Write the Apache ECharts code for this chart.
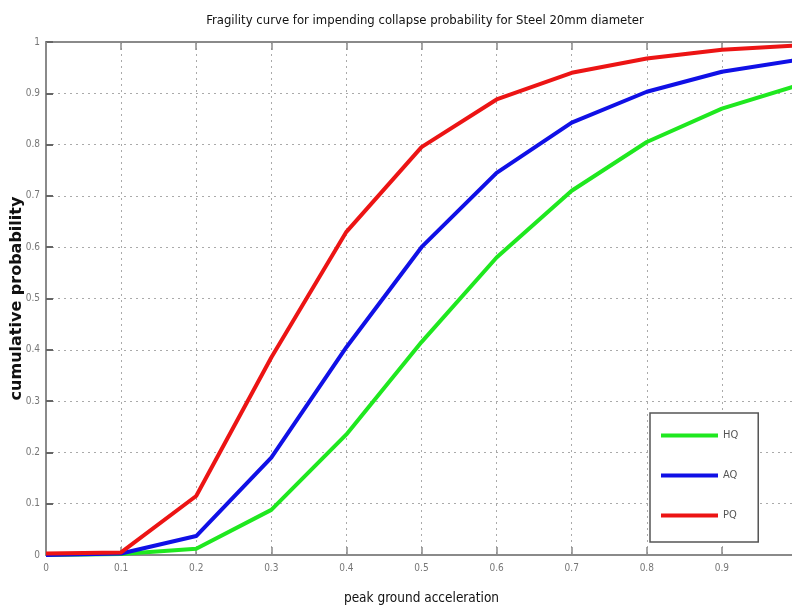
<!DOCTYPE html>
<html>
<head>
<meta charset="utf-8">
<script src="https://cdn.jsdelivr.net/npm/echarts@6/dist/echarts.min.js"></script>
<style>
	html, body { margin: 0; padding: 0; background: #fff; }
	#chart { width: 792px; height: 612px; }
</style>
</head>
<body>
<div id="chart"></div>
<script>
// peak ground acceleration (g)
const pga = [0, 0.1, 0.2, 0.3, 0.4, 0.5, 0.6, 0.7, 0.8, 0.9, 1.0];
// cumulative probability per quality class
const hq = [0, 0.002, 0.012, 0.088, 0.235, 0.415, 0.58, 0.71, 0.805, 0.87, 0.915];
const aq = [0, 0.003, 0.037, 0.19, 0.405, 0.6, 0.745, 0.843, 0.903, 0.942, 0.965];
const pq = [0.003, 0.005, 0.115, 0.385, 0.63, 0.795, 0.888, 0.94, 0.968, 0.985, 0.993];
const seriesNames = ['HQ', 'AQ', 'PQ'];

const pairs = function (ys) {
	return pga.map(function (x, i) { return [x, ys[i]]; });
};

const chart = echarts.init(document.getElementById('chart'));
const axisGray = '#8a8a8a';
const narrow = "'DejaVu Sans Condensed', 'Liberation Sans', sans-serif";
const lineStyleOf = function (color) {
	return { width: 4, color: color };
};

chart.setOption({
	animation: false,
	title: {
		text: 'Fragility curve for impending collapse probability for Steel 20mm diameter',
		left: 420,
		textAlign: 'center',
		top: 9,
		textStyle: {
			fontFamily: narrow,
			fontWeight: 'normal',
			fontSize: 13,
			color: '#111'
		}
	},
	legend: {
		data: seriesNames,
		orient: 'vertical',
		left: 650,
		top: 413,
		padding: [17, 20, 21, 11],
		itemGap: 29,
		itemWidth: 57,
		itemHeight: 4,
		icon: 'rect',
		backgroundColor: '#fff',
		borderColor: '#555',
		borderWidth: 1.5,
		textStyle: {
			fontFamily: narrow,
			fontSize: 11,
			color: '#555'
		}
	},
	grid: {
		left: 46,
		top: 42,
		width: 751,
		height: 513,
		outerBoundsMode: 'none',
		containLabel: false
	},
	xAxis: [{
		type: 'value',
		min: 0,
		max: 1,
		interval: 0.1,
		name: 'peak ground acceleration',
		nameLocation: 'middle',
		nameGap: 36,
		nameMoveOverlap: false,
		nameTextStyle: {
			fontFamily: narrow,
			fontSize: 13.5,
			color: '#111'
		},
		axisLine: { lineStyle: { color: axisGray, width: 2 } },
		axisTick: { inside: true, length: 8, lineStyle: { color: axisGray, width: 1.5 } },
		axisLabel: {
			fontFamily: narrow,
			fontSize: 10,
			color: '#777',
			margin: 8,
			formatter: function (v) { return v >= 1 ? '' : String(+v.toFixed(1)); }
		},
		splitLine: { show: true, lineStyle: { type: [2, 4], color: '#aaa', width: 1 } }
	}, {
		type: 'value',
		position: 'top',
		min: 0,
		max: 1,
		interval: 0.1,
		axisLine: { lineStyle: { color: axisGray, width: 2 } },
		axisTick: { inside: true, length: 8, lineStyle: { color: axisGray, width: 1.5 } },
		axisLabel: { show: false },
		splitLine: { show: false }
	}],
	yAxis: {
		type: 'value',
		min: 0,
		max: 1,
		interval: 0.1,
		name: 'cumulative probability',
		nameLocation: 'middle',
		nameGap: 21,
		nameMoveOverlap: false,
		nameTextStyle: {
			fontFamily: 'DejaVu Sans',
			fontWeight: 'bold',
			fontSize: 16,
			color: '#111'
		},
		axisLine: { lineStyle: { color: axisGray, width: 2 } },
		axisTick: { inside: true, length: 7, lineStyle: { color: '#666', width: 2 } },
		axisLabel: {
			fontFamily: narrow,
			fontSize: 10,
			color: '#777',
			margin: 6,
			formatter: function (v) { return String(+v.toFixed(1)); }
		},
		splitLine: { show: true, lineStyle: { type: [2, 4], color: '#aaa', width: 1 } }
	},
	series: [{
		name: 'HQ',
		type: 'line',
		data: pairs(hq),
		showSymbol: false,
		color: '#1fe81f',
		lineStyle: lineStyleOf('#1fe81f'),
		z: 2
	}, {
		name: 'AQ',
		type: 'line',
		data: pairs(aq),
		showSymbol: false,
		color: '#1010e6',
		lineStyle: lineStyleOf('#1010e6'),
		z: 3
	}, {
		name: 'PQ',
		type: 'line',
		data: pairs(pq),
		showSymbol: false,
		color: '#ec1414',
		lineStyle: lineStyleOf('#ec1414'),
		z: 4
	}]
});
</script>
</body>
</html>
